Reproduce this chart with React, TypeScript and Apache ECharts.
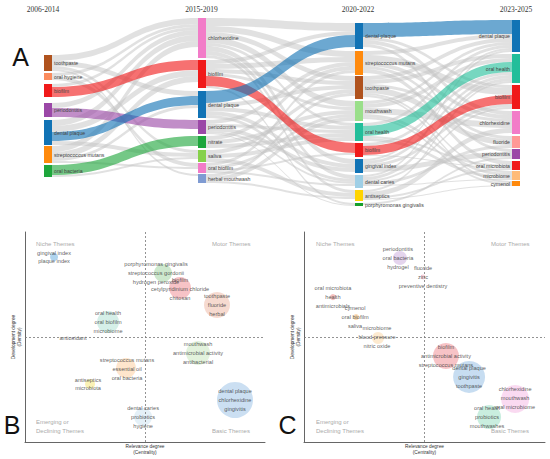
import React, { useEffect, useRef } from "react";
import * as echarts from "echarts";

// ---------------- Sankey (A) data ----------------
const periods = ["2006-2014", "2015-2019", "2020-2022", "2023-2025"];

const col1Names = ["toothpaste", "oral hygiene", "biofilm", "periodontitis", "dental plaque", "streptococcus mutans", "oral bacteria"];
const col1Values = [16, 7, 13, 14, 25, 17, 12];
const col2Names = ["chlorhexidine", "biofilm", "dental plaque", "periodontitis", "nitrate", "saliva", "oral biofilm", "herbal mouthwash"];
const col2Values = [40, 28, 27, 14, 12, 12, 10, 9];
const col3Names = ["dental plaque", "streptococcus mutans", "toothpaste", "mouthwash", "oral health", "biofilm", "gingival index", "dental caries", "antiseptics", "porphyromonas gingivalis"];
const col3Values = [26, 24, 23, 20, 18, 14, 14, 13, 11, 3];
const col4Names = ["dental plaque", "oral health", "biofilm", "chlorhexidine", "fluoride", "periodontitis", "oral microbiota", "microbiome", "cymenol"];
const col4Values = [32, 29, 24, 23, 12, 10, 9, 9, 5];

const links12: [string, string, number][] = [
  ["toothpaste", "chlorhexidine", 6], ["toothpaste", "dental plaque", 5], ["toothpaste", "saliva", 3], ["toothpaste", "herbal mouthwash", 2],
  ["oral hygiene", "chlorhexidine", 3], ["oral hygiene", "oral biofilm", 4],
  ["biofilm", "chlorhexidine", 3], ["biofilm", "biofilm", 10],
  ["periodontitis", "chlorhexidine", 5], ["periodontitis", "periodontitis", 9],
  ["dental plaque", "chlorhexidine", 6], ["dental plaque", "biofilm", 6], ["dental plaque", "dental plaque", 9], ["dental plaque", "saliva", 4],
  ["streptococcus mutans", "chlorhexidine", 6], ["streptococcus mutans", "biofilm", 6], ["streptococcus mutans", "dental plaque", 3], ["streptococcus mutans", "oral biofilm", 2],
  ["oral bacteria", "nitrate", 10], ["oral bacteria", "saliva", 2],
];
const links23: [string, string, number][] = [
  ["chlorhexidine", "dental plaque", 8], ["chlorhexidine", "streptococcus mutans", 6], ["chlorhexidine", "toothpaste", 5], ["chlorhexidine", "mouthwash", 6],
  ["chlorhexidine", "gingival index", 5], ["chlorhexidine", "dental caries", 4], ["chlorhexidine", "antiseptics", 3], ["chlorhexidine", "oral health", 3],
  ["biofilm", "biofilm", 10], ["biofilm", "dental plaque", 4], ["biofilm", "streptococcus mutans", 5], ["biofilm", "toothpaste", 4], ["biofilm", "mouthwash", 3], ["biofilm", "porphyromonas gingivalis", 2],
  ["dental plaque", "dental plaque", 12], ["dental plaque", "toothpaste", 4], ["dental plaque", "oral health", 4], ["dental plaque", "gingival index", 4], ["dental plaque", "dental caries", 3],
  ["periodontitis", "streptococcus mutans", 4], ["periodontitis", "gingival index", 4], ["periodontitis", "oral health", 3], ["periodontitis", "porphyromonas gingivalis", 1], ["periodontitis", "dental caries", 2],
  ["nitrate", "mouthwash", 4], ["nitrate", "oral health", 4], ["nitrate", "streptococcus mutans", 4],
  ["saliva", "toothpaste", 4], ["saliva", "oral health", 4], ["saliva", "antiseptics", 4],
  ["oral biofilm", "mouthwash", 3], ["oral biofilm", "streptococcus mutans", 3], ["oral biofilm", "biofilm", 2], ["oral biofilm", "dental caries", 2],
  ["herbal mouthwash", "mouthwash", 4], ["herbal mouthwash", "toothpaste", 3], ["herbal mouthwash", "antiseptics", 2],
];
const links34: [string, string, number][] = [
  ["dental plaque", "dental plaque", 14], ["dental plaque", "chlorhexidine", 4], ["dental plaque", "periodontitis", 3], ["dental plaque", "biofilm", 3],
  ["streptococcus mutans", "biofilm", 7], ["streptococcus mutans", "dental plaque", 4], ["streptococcus mutans", "oral microbiota", 4], ["streptococcus mutans", "chlorhexidine", 4], ["streptococcus mutans", "fluoride", 3],
  ["toothpaste", "fluoride", 6], ["toothpaste", "oral health", 4], ["toothpaste", "dental plaque", 4], ["toothpaste", "chlorhexidine", 3], ["toothpaste", "cymenol", 2], ["toothpaste", "microbiome", 2],
  ["mouthwash", "chlorhexidine", 6], ["mouthwash", "oral health", 4], ["mouthwash", "dental plaque", 3], ["mouthwash", "microbiome", 3], ["mouthwash", "cymenol", 2],
  ["oral health", "oral health", 10], ["oral health", "microbiome", 3], ["oral health", "dental plaque", 3], ["oral health", "oral microbiota", 2],
  ["biofilm", "biofilm", 9], ["biofilm", "oral health", 3], ["biofilm", "oral microbiota", 1],
  ["gingival index", "periodontitis", 5], ["gingival index", "dental plaque", 2], ["gingival index", "oral health", 3], ["gingival index", "biofilm", 3],
  ["dental caries", "oral health", 3], ["dental caries", "fluoride", 3], ["dental caries", "dental plaque", 2], ["dental caries", "biofilm", 2], ["dental caries", "microbiome", 1],
  ["antiseptics", "chlorhexidine", 5], ["antiseptics", "oral health", 2], ["antiseptics", "oral microbiota", 2], ["antiseptics", "cymenol", 1],
  ["porphyromonas gingivalis", "periodontitis", 2],
];
const highlighted = [
  ["biofilm>biofilm", "periodontitis>periodontitis", "dental plaque>dental plaque", "oral bacteria>nitrate"],
  ["dental plaque>dental plaque", "biofilm>biofilm"],
  ["dental plaque>dental plaque", "oral health>oral health", "biofilm>biofilm"],
];

// ---------------- Strategic diagrams (B, C) data ----------------
const bThemes = [
  ["gingival index", "plaque index"],
  ["porphyromonas gingivalis", "streptococcus gordonii", "hydrogen peroxide"],
  ["biofilm", "cetylpyridinium chloride", "chitosan"],
  ["toothpaste", "fluoride", "herbal"],
  ["oral health", "oral biofilm", "microbiome"],
  ["antioxidant"],
  ["mouthwash", "antimicrobial activity", "antibacterial"],
  ["streptococcus mutans", "essential oil", "oral bacteria"],
  ["antiseptics", "microbiota"],
  ["dental plaque", "chlorhexidine", "gingivitis"],
  ["dental caries", "probiotics", "hygiene"],
];
const bCentrality = [12.1, 57.5, 64.6, 80, 34.6, 20, 72.1, 42.1, 27.1, 87.5, 49.2];
const bDensity = [88.1, 80.5, 73.3, 65.2, 57.1, 49.5, 42.4, 35.2, 27.6, 20, 11.9];
const bVolume = [8, 18, 22, 26, 22, 2, 24, 20, 10, 36, 18];

const cThemes = [
  ["periodontitis", "oral bacteria", "hydrogel"],
  ["fluoride", "zinc", "preventive dentistry"],
  ["oral microbiota", "health", "antimicrobials"],
  ["cymenol", "oral biofilm", "saliva"],
  ["microbiome", "blood pressure", "nitric oxide"],
  ["biofilm", "antimicrobial activity", "streptococcus mutans"],
  ["dental plaque", "gingivitis", "toothpaste"],
  ["chlorhexidine", "mouthwash", "oral microbiome"],
  ["oral health", "probiotics", "mouthwashes"],
];
const cCentrality = [39.8, 49.4, 12.0, 21.6, 30.7, 58.9, 68.5, 87.6, 76.8];
const cDensity = [87.6, 78.6, 69.0, 59.5, 49.5, 41.0, 31.0, 20.5, 11.9];
const cVolume = [14, 5, 6, 6, 12, 26, 32, 28, 24];

const quadrantNames = ["Niche Themes", "Motor Themes", "Emerging or\nDeclining Themes", "Basic Themes"];

// ---------------- styles / layout ----------------
const SANS = "Liberation Sans, Arial, Helvetica, sans-serif";
const SERIF = "Liberation Serif, Times New Roman, serif";
const RED = "#f01a1a", BLUE = "#1173b5", PURPLE = "#9b48a7", ORANGE = "#ff8a0d", GREEN = "#1ea63c";
const BROWN = "#b0531e", PINK = "#f27cc8", TEAL = "#22be9a";
const nodeColors = [
  [BROWN, "#fb8c5e", RED, PURPLE, BLUE, ORANGE, GREEN],
  [PINK, RED, BLUE, PURPLE, GREEN, "#86d14a", PINK, "#7f9bd2"],
  [BLUE, ORANGE, BROWN, "#9adf8a", TEAL, RED, BLUE, "#9fcfe6", "#ffd400", "#16a02a"],
  [BLUE, TEAL, RED, PINK, "#ff9896", PURPLE, RED, "#ffbb78", ORANGE],
];
const colX = [44, 198, 355, 512];
const colTops = [
  [55, 73, 84, 103, 120, 146, 165],
  [18, 60, 91, 120, 136, 150, 163, 174],
  [23, 51, 76, 101, 123, 143, 159, 175, 190, 203],
  [20, 54, 85, 111, 136, 149, 161, 171, 181],
];
const bColors = [
  "rgba(90,165,220,0.6)", "rgba(44,160,44,0.3)", "rgba(230,60,70,0.38)", "rgba(228,140,110,0.4)",
  "rgba(80,190,160,0.3)", "rgba(120,90,160,0.6)", "rgba(150,210,130,0.35)", "rgba(253,174,97,0.4)",
  "rgba(240,215,50,0.45)", "rgba(100,160,215,0.42)", "rgba(158,202,225,0.35)",
];
const cColors = [
  "rgba(170,120,200,0.4)", "rgba(240,120,150,0.4)", "rgba(230,80,80,0.45)", "rgba(245,160,60,0.5)",
  "rgba(250,190,110,0.4)", "rgba(230,60,70,0.38)", "rgba(100,160,215,0.45)", "rgba(240,140,210,0.4)",
  "rgba(80,200,150,0.38)",
];
const bLabelShift: [number, number][] = [[0, 0], [-7, 0], [0, 1], [0, 0], [0, 0], [0, 0], [0, 0], [1, 1], [-2, 0], [0, 0], [0, 0]];
const cLabelShift: [number, number][] = [[-2, 0], [0, 0], [0, 0], [-1, 0], [-1, -1], [0, 0], [0, 0], [0, -1], [-2, 0], [0, 0]];

const App = () => {
  const ref = useRef<HTMLDivElement>(null);
  useEffect(() => {
    const chart = echarts.init(ref.current!, null, { renderer: "svg" });

    const cols = [
      { names: col1Names, values: col1Values },
      { names: col2Names, values: col2Values },
      { names: col3Names, values: col3Values },
      { names: col4Names, values: col4Values },
    ];
    // layout box height equals the largest column total, so 1 value unit = 1px
    const SW = 550;
    const SH = Math.max(...cols.map((c) => c.values.reduce((a, b) => a + b, 0)));
    const nodes: any[] = [];
    cols.forEach((c, ci) =>
      c.names.forEach((n, i) =>
        nodes.push({
          name: `${n}#${ci}`,
          value: c.values[i],
          localX: colX[ci] / SW,
          localY: colTops[ci][i] / SH,
          itemStyle: { color: nodeColors[ci][i], borderWidth: 0 },
          label: { position: ci === 3 ? "left" : "right" },
        })
      )
    );
    const grayLinks: any[] = [];
    const colorLinks: any[] = [];
    [links12, links23, links34].forEach((set, ci) =>
      set.forEach(([s, t, v]) => {
        const hl = highlighted[ci].includes(`${s}>${t}`);
        const srcColor = nodeColors[ci][cols[ci].names.indexOf(s)];
        const item = {
          source: `${s}#${ci}`,
          target: `${t}#${ci + 1}`,
          value: v,
          lineStyle: hl ? { color: srcColor, opacity: 0.62 } : { color: "#c4c4c4", opacity: 0.5 },
        };
        (hl ? colorLinks : grayLinks).push(item);
      })
    );

    const bubbleSeries = (
      themes: string[][], xs: number[], ys: number[], vols: number[], colors: string[],
      shifts: [number, number][], gi: number
    ) => ({
      type: "scatter",
      xAxisIndex: gi,
      yAxisIndex: gi,
      symbolSize: (val: number[]) => val[2],
      data: themes.map((t, i) => ({
        value: [xs[i], ys[i], vols[i]],
        itemStyle: { color: colors[i] },
        label: { formatter: t.join("\n"), offset: shifts[i] },
      })),
      label: {
        show: true,
        position: "inside",
        fontSize: 5.6,
        lineHeight: 8.7,
        color: "#333",
        fontFamily: SANS,
      },
      emphasis: { disabled: true },
      markLine: {
        silent: true,
        symbol: "none",
        label: { show: false },
        lineStyle: { type: [2, 2], color: "#777", width: 0.8 },
        data: [{ xAxis: 50 }, { yAxis: 50 }],
      },
    });

    const axisCommon = {
      type: "value",
      min: 0,
      max: 100,
      axisLine: { show: true, lineStyle: { color: "#666", width: 1 } },
      axisTick: { show: false },
      axisLabel: { show: false },
      splitLine: { show: false },
      nameLocation: "middle",
      nameTextStyle: { fontSize: 4.8, color: "#333", fontFamily: SANS, lineHeight: 5.5 },
    };
    const xAxes = [0, 1].map((gi) => ({ ...axisCommon, gridIndex: gi, name: "Relevance degree\n(Centrality)", nameGap: 2 }));
    const yAxes = [0, 1].map((gi) => ({ ...axisCommon, gridIndex: gi, name: "Development degree\n(Density)", nameGap: 3 }));

    const txt = (text: string, x: number, y: number, size: number, fill: string, align: string, family = SANS) => ({
      type: "text",
      x,
      y,
      silent: true,
      style: {
        text, fontSize: size, fontFamily: family, fill,
        align, verticalAlign: "middle", textAlign: align, textVerticalAlign: "middle", lineHeight: size * 1.5,
      },
    });
    const quadrantTexts = (x0: number, x1: number) => [
      txt(quadrantNames[0], x0, 244, 6, "#aaa", "left"),
      txt(quadrantNames[1], x1, 244, 6, "#aaa", "left"),
      txt(quadrantNames[2], x0, 426.5, 6, "#aaa", "left"),
      txt(quadrantNames[3], x1, 431, 6, "#aaa", "left"),
    ];

    const option: any = {
      animation: false,
      backgroundColor: "#fff",
      grid: [
        { left: 25, top: 232, width: 240, height: 210 },
        { left: 304, top: 232, width: 241, height: 210 },
      ],
      xAxis: xAxes,
      yAxis: yAxes,
      graphic: [
        ...periods.map((p, i) => txt(p, [43, 201.5, 358, 516][i], 9, 7.5, "#333", "center", SERIF)),
        txt("A", 20.5, 57, 25, "#111", "center"),
        txt("B", 12, 425, 25, "#111", "center"),
        txt("C", 287.5, 425, 25, "#111", "center"),
        ...quadrantTexts(36, 212),
        ...quadrantTexts(316, 491),
      ],
      series: [
        {
          type: "sankey",
          left: 0,
          top: 0,
          width: SW,
          height: SH,
          nodeWidth: 8,
          nodeGap: 0,
          layoutIterations: 0,
          nodeAlign: "left",
          draggable: false,
          emphasis: { disabled: true },
          data: nodes,
          links: [...grayLinks, ...colorLinks],
          lineStyle: { curveness: 0.5 },
          label: {
            show: true,
            fontSize: 5.2,
            color: "#444",
            fontFamily: SANS,
            distance: 2,
            formatter: (p: any) => String(p.name).split("#")[0],
          },
        },
        bubbleSeries(bThemes, bCentrality, bDensity, bVolume, bColors, bLabelShift, 0),
        bubbleSeries(cThemes, cCentrality, cDensity, cVolume, cColors, cLabelShift, 1),
      ],
    };
    chart.setOption(option);
    return () => chart.dispose();
  }, []);
  return (
    <div
      ref={ref}
      style={{ position: "absolute", left: 0, top: 0, width: 550, height: 459, background: "#fff" }}
    />
  );
};

export default App;
